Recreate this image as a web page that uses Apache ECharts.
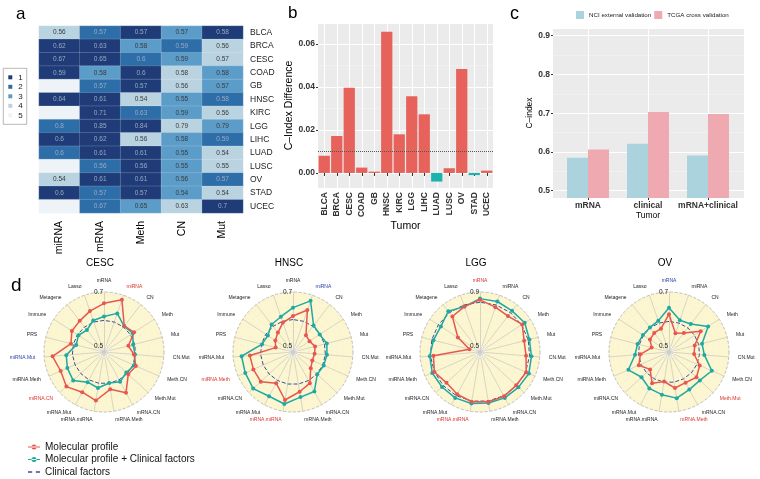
<!DOCTYPE html>
<html><head><meta charset="utf-8">
<script src="https://cdn.jsdelivr.net/npm/echarts@6/dist/echarts.min.js"></script>
<style>html,body{margin:0;padding:0;background:#fff}#c{width:760px;height:479px}</style>
</head><body><div id="c"></div>
<script>
// ---------- Panel a : heatmap ----------
const tumors = ['BLCA','BRCA','CESC','COAD','GB','HNSC','KIRC','LGG','LIHC','LUAD','LUSC','OV','STAD','UCEC'];
const omics = ['miRNA','mRNA','Meth','CN','Mut'];
const cIdxMiRNA = [0.56,0.62,0.67,0.59,null,0.64,null,0.8,0.6,0.6,null,0.54,0.6,null];
const cIdxMRNA  = [0.57,0.63,0.65,0.58,0.57,0.61,0.71,0.85,0.62,0.61,0.56,0.61,0.57,0.67];
const cIdxMeth  = [0.57,0.58,0.6,0.6,0.57,0.54,0.63,0.84,0.56,0.61,0.56,0.61,0.57,0.65];
const cIdxCN    = [0.57,0.59,0.59,0.58,0.56,0.55,0.59,0.79,0.58,0.55,0.55,0.56,0.54,0.63];
const cIdxMut   = [0.58,0.56,0.57,0.58,0.57,0.58,0.56,0.79,0.59,0.54,0.55,0.57,0.54,0.7];
const rankMiRNA = [4,1,1,1,5,1,5,2,1,2,5,4,1,5];
const rankMRNA  = [2,1,1,3,2,1,1,1,1,1,2,1,2,2];
const rankMeth  = [1,3,2,1,1,4,2,1,4,1,1,1,1,3];
const rankCN    = [3,2,3,4,4,3,3,4,3,3,3,3,3,4];
const rankMut   = [1,4,4,3,3,2,4,3,2,4,4,2,4,1];
const rankLabels = ['1','2','3','4','5'];

// ---------- Panel b : C-index difference ----------
const diffB = [0.0080,0.0172,0.0397,0.0025,0.0006,0.0657,0.0180,0.0357,0.0273,-0.0040,0.0022,0.0484,-0.0010,0.0011];
const thresholdB = 0.01;

// ---------- Panel c : validation ----------
const modelsC = ['mRNA','clinical','mRNA+clinical'];
const nciC  = [0.585,0.621,0.591];
const tcgaC = [0.606,0.703,0.698];

// ---------- Panel d : radars (counter-clockwise from top) ----------
const radarVars = ['mRNA','Lasso','Metagene','Immune','PRS','miRNA.Mut','miRNA.Meth','miRNA.CN','mRNA.Mut','mRNA.miRNA','mRNA.Meth','mRNA.CN','Meth.Mut','Meth.CN','CN.Mut','Mut','Meth','CN','miRNA'];
const cescMol     = [0.658,0.638,0.624,0.620,0.604,0.669,0.653,0.667,0.647,0.660,0.618,0.649,0.600,0.607,0.589,0.571,0.611,0.600,0.682];
const cescMolClin = [0.609,0.601,0.581,0.591,0.584,0.618,0.626,0.633,0.605,0.613,0.594,0.603,0.590,0.600,0.593,0.589,0.605,0.599,0.629];
const cescClin = 0.595;
const hnscMol     = [0.611,0.593,0.569,0.556,0.544,0.638,0.638,0.640,0.609,0.658,0.627,0.609,0.567,0.556,0.558,0.562,0.551,0.556,0.642];
const hnscMolClin = [0.642,0.616,0.607,0.589,0.596,0.669,0.671,0.678,0.664,0.673,0.647,0.644,0.600,0.602,0.604,0.607,0.596,0.602,0.678];
const hnscClin = 0.598;
const lggMol      = [0.842,0.811,0.789,0.651,0.536,0.802,0.824,0.793,0.811,0.829,0.829,0.829,0.820,0.829,0.798,0.793,0.829,0.793,0.807];
const lggMolClin  = [0.851,0.811,0.838,0.802,0.811,0.829,0.842,0.838,0.842,0.842,0.838,0.842,0.842,0.851,0.838,0.833,0.851,0.842,0.851];
const lggClin = 0.824;
const ovMol       = [0.618,0.569,0.567,0.562,0.544,0.584,0.600,0.573,0.609,0.589,0.613,0.607,0.616,0.602,0.571,0.576,0.618,0.567,0.551];
const ovMolClin   = [0.642,0.600,0.593,0.593,0.598,0.604,0.642,0.616,0.631,0.638,0.651,0.636,0.633,0.651,0.609,0.604,0.651,0.609,0.602];
const ovClin = 0.591;
const gridMin = 0.5;

const FONT = '"Liberation Sans", Arial, sans-serif';
const RED = '#e8574f', TEAL = '#1fa9a3', NAVY = '#3c4f92', YEL = '#fcf6d0';
const rankColors = ['#1f3c78','#2d6ea8','#5c9cc9','#b9d3e1','#eef3f7'];

// heatmap data
const colVals = [cIdxMiRNA,cIdxMRNA,cIdxMeth,cIdxCN,cIdxMut];
const colRanks = [rankMiRNA,rankMRNA,rankMeth,rankCN,rankMut];
const heatData = [];
omics.forEach((o, j) => tumors.forEach((t, i) => heatData.push({
  value: [j, i, colRanks[j][i], colVals[j][i]],
  label: {color: colRanks[j][i] <= 2 ? '#9aa8c0' : '#3a3a3a'}
})));

const radarDefs = [
  {title:'CESC', center:[104,352], max:0.7, mol:cescMol, molClin:cescMolClin, clin:cescClin, red:['miRNA','miRNA.CN'], blue:['miRNA.Mut']},
  {title:'HNSC', center:[293,352], max:0.7, mol:hnscMol, molClin:hnscMolClin, clin:hnscClin, red:['miRNA.Meth','mRNA.miRNA'], blue:['miRNA']},
  {title:'LGG',  center:[480,352], max:0.9, mol:lggMol,  molClin:lggMolClin,  clin:lggClin,  red:['mRNA','mRNA.miRNA'], blue:[]},
  {title:'OV',   center:[669,352], max:0.7, mol:ovMol,   molClin:ovMolClin,   clin:ovClin,   red:['Meth.Mut','mRNA.Meth'], blue:['mRNA']}
];
const R = 60;
const T = 'rgba(0,0,0,0)';

const radars = radarDefs.map(d => {
  const centre = gridMin - (d.max - gridMin) / 9;
  return {
    center: d.center, radius: R, startAngle: 90, shape: 'circle', splitNumber: 10,
    axisNameGap: 9,
    axisName: {color: '#222', fontSize: 5, fontFamily: FONT},
    indicator: radarVars.map((v, i) => {
      const ind = {name: v, min: centre, max: d.max,
        color: d.red.includes(v) ? '#d9342b' : (d.blue.includes(v) ? '#2b3f9e' : '#222')};
      if (i === 0) ind.axisLabel = {show: true, fontSize: 6.5, color: '#222', margin: 1, fontFamily: FONT,
        formatter: val => (Math.abs(val - gridMin) < 1e-3 || Math.abs(val - d.max) < 1e-3) ? String(+val.toFixed(1)) : ''};
      return ind;
    }),
    axisLabel: {show: false},
    axisTick: {show: false},
    axisLine: {lineStyle: {color: '#cfccbd', width: 0.8}},
    splitLine: {lineStyle: {type: 'dashed', width: 0.8, color: [T,T,T,T,T,T,T,T,T,T,'#b0b0b0']}},
    splitArea: {show: true, areaStyle: {color: ['#ffffff',YEL,YEL,YEL,YEL,YEL,YEL,YEL,YEL,YEL]}}
  };
});

const radarSeries = radarDefs.map((d, k) => ({
  type: 'radar', radarIndex: k, silent: true,
  data: [
    {name: 'Clinical factors', value: radarVars.map(() => d.clin), symbol: 'none',
      lineStyle: {color: NAVY, type: 'dashed', width: 1}, itemStyle: {color: NAVY}},
    {name: 'Molecular profile + Clinical factors', value: d.molClin, symbol: 'circle', symbolSize: 4,
      lineStyle: {color: TEAL, width: 1.5}, itemStyle: {color: TEAL}},
    {name: 'Molecular profile', value: d.mol, symbol: 'circle', symbolSize: 4,
      lineStyle: {color: RED, width: 1.5}, itemStyle: {color: RED}}
  ]
}));

const axisTxt = {fontFamily: FONT, fontSize: 8.5, fontWeight: 'bold', color: '#333'};

const option = {
  animation: false,
  backgroundColor: '#ffffff',
  textStyle: {fontFamily: FONT},
  title: [
    {text: 'a', left: 11, top: 1, textStyle: {fontSize: 17, fontWeight: 'normal', color: '#000', fontFamily: FONT}},
    {text: 'b', left: 283, top: 0, textStyle: {fontSize: 17, fontWeight: 'normal', color: '#000', fontFamily: FONT}},
    {text: 'c', left: 505, top: 0, textStyle: {fontSize: 18, fontWeight: 'normal', color: '#000', fontFamily: FONT}},
    {text: 'd', left: 6, top: 271, textStyle: {fontSize: 19, fontWeight: 'normal', color: '#000', fontFamily: FONT}}
  ].concat(radarDefs.map(d => ({text: d.title, left: d.center[0] - 4, top: 258, textAlign: 'center', padding: 0,
      textStyle: {fontSize: 10, fontWeight: 'normal', color: '#000', fontFamily: FONT}}))),
  grid: [
    {left: 39, top: 26, width: 204, height: 187},
    {left: 318, top: 23, width: 175, height: 165, show: true, backgroundColor: '#ebebeb', borderWidth: 0},
    {left: 553, top: 28, width: 191, height: 170, show: true, backgroundColor: '#ebebeb', borderWidth: 0},
    {left: 558, top: 28, width: 180, height: 170}
  ],
  xAxis: [
    {gridIndex: 0, type: 'category', data: omics, axisLine: {show: false}, axisTick: {show: false},
      axisLabel: {rotate: 90, fontSize: 10.5, color: '#000', margin: 8, fontFamily: FONT}},
    {gridIndex: 1, type: 'category', data: tumors, name: 'Tumor', nameLocation: 'middle', nameGap: 32,
      nameTextStyle: {fontSize: 10.5, color: '#000', fontFamily: FONT},
      axisLine: {show: false}, axisTick: {show: true, alignWithLabel: true, length: 3, lineStyle: {color: '#333'}},
      splitLine: {show: true, alignWithLabel: true, lineStyle: {color: '#ffffff', width: 1}},
      axisLabel: Object.assign({rotate: 90, margin: 4, interval: 0}, axisTxt)},
    {gridIndex: 2, type: 'category', data: modelsC, show: false},
    {gridIndex: 3, type: 'category', data: modelsC, name: 'Tumor', nameLocation: 'middle', nameGap: 12,
      nameTextStyle: {fontSize: 8.5, color: '#000', fontFamily: FONT},
      axisLine: {show: false}, axisTick: {show: true, alignWithLabel: true, length: 2, lineStyle: {color: '#333'}},
      splitLine: {show: true, alignWithLabel: true, lineStyle: {color: '#ffffff', width: 1}},
      axisLabel: Object.assign({margin: 3, interval: 0}, axisTxt)}
  ],
  yAxis: [
    {gridIndex: 0, type: 'category', data: tumors, inverse: true, position: 'right',
      axisLine: {show: false}, axisTick: {show: false},
      axisLabel: {fontSize: 8.5, color: '#222', margin: 7, fontFamily: FONT, interval: 0}},
    {gridIndex: 1, type: 'value', min: -0.007, max: 0.0698, name: 'C\u2013Index Difference', nameLocation: 'middle', nameGap: 19,
      nameTextStyle: {fontSize: 10.5, color: '#000', fontFamily: FONT},
      axisLine: {show: false}, axisTick: {show: true, length: 2, lineStyle: {color: '#333'}},
      axisLabel: Object.assign({margin: 3, showMinLabel: false, showMaxLabel: false, formatter: v => v.toFixed(2)}, axisTxt),
      splitLine: {show: true, lineStyle: {color: '#ffffff', width: 1}},
      minorSplitLine: {show: true, lineStyle: {color: '#f5f5f5', width: 0.5}}, minorTick: {show: false, splitNumber: 2}},
    {gridIndex: 2, type: 'value', min: 0.481, max: 0.92, name: 'C\u2013index', nameLocation: 'middle', nameGap: 15,
      nameTextStyle: {fontSize: 8.5, color: '#000', fontFamily: FONT},
      axisLine: {show: false}, axisTick: {show: true, length: 2, lineStyle: {color: '#333'}},
      axisLabel: Object.assign({margin: 3, showMinLabel: false, showMaxLabel: false, formatter: v => v.toFixed(1)}, axisTxt),
      splitLine: {show: true, lineStyle: {color: '#ffffff', width: 1}},
      minorSplitLine: {show: true, lineStyle: {color: '#f5f5f5', width: 0.5}}, minorTick: {show: false, splitNumber: 2}},
    {gridIndex: 3, type: 'value', min: 0.481, max: 0.92, show: false}
  ],
  visualMap: {
    type: 'piecewise', seriesIndex: 0, dimension: 2, orient: 'vertical', inverse: true,
    left: 3, top: 68, itemWidth: 4, itemHeight: 4, itemGap: 1.5, textGap: 6, itemSymbol: 'rect',
    selectedMode: false, borderColor: '#888', borderWidth: 0.6, backgroundColor: '#fff', padding: [5, 4, 5, 5],
    textStyle: {fontSize: 8, color: '#222', fontFamily: FONT},
    pieces: rankLabels.map((l, i) => ({value: i + 1, label: l, color: rankColors[i]}))
  },
  legend: [
    {data: ['NCI external validation', 'TCGA cross validation'], left: 576, top: 11, padding: 0, itemWidth: 8, itemHeight: 8,
      itemGap: 3, icon: 'rect', selectedMode: false, textStyle: {fontSize: 6.2, color: '#222', fontFamily: FONT}},
    {orient: 'vertical', left: 28, top: 441, padding: 0, itemWidth: 12, itemHeight: 5, itemGap: 0.5, selectedMode: false,
      textStyle: {fontSize: 10, lineHeight: 12, color: '#111', fontFamily: FONT},
      data: [
        {name: 'Molecular profile', icon: 'path://M0,2 L12,2 L12,3 L0,3 Z M3.5,2.5 A2.5,2.5 0 1 0 8.5,2.5 A2.5,2.5 0 1 0 3.5,2.5 Z', itemStyle: {color: RED, borderWidth: 0}},
        {name: 'Molecular profile + Clinical factors', icon: 'path://M0,2 L12,2 L12,3 L0,3 Z M3.5,2.5 A2.5,2.5 0 1 0 8.5,2.5 A2.5,2.5 0 1 0 3.5,2.5 Z', itemStyle: {color: TEAL, borderWidth: 0}},
        {name: 'Clinical factors', icon: 'path://M0,0 L4,0 L4,1.3 L0,1.3 Z M7.5,0 L11.5,0 L11.5,1.3 L7.5,1.3 Z', itemStyle: {color: NAVY, borderWidth: 0}}
      ]}
  ],
  radar: radars,
  series: [
    {type: 'heatmap', xAxisIndex: 0, yAxisIndex: 0, data: heatData, silent: true,
      itemStyle: {borderColor: 'rgba(255,255,255,0.35)', borderWidth: 0.5},
      label: {show: true, fontSize: 6.5, fontFamily: FONT, formatter: p => p.value[3] == null ? '' : String(p.value[3])}},
    {type: 'bar', name: 'diff', xAxisIndex: 1, yAxisIndex: 1, data: diffB, barWidth: '90%', silent: true,
      itemStyle: {color: p => p.value >= 0 ? '#e6625b' : '#1cb3ad'},
      markLine: {silent: true, symbol: 'none', label: {show: false},
        lineStyle: {type: 'dotted', color: '#555', width: 1}, data: [{yAxis: thresholdB}]}},
    {type: 'bar', name: 'NCI external validation', xAxisIndex: 3, yAxisIndex: 3, data: nciC, barWidth: 21, barGap: '0%',
      silent: true, itemStyle: {color: '#aad3dd'}},
    {type: 'bar', name: 'TCGA cross validation', xAxisIndex: 3, yAxisIndex: 3, data: tcgaC, barWidth: 21, barGap: '0%',
      silent: true, itemStyle: {color: '#efa9b1'}}
  ].concat(radarSeries)
};

const chart = echarts.init(document.getElementById('c'), null, {renderer: 'canvas'});
chart.setOption(option);
</script>
</body></html>
